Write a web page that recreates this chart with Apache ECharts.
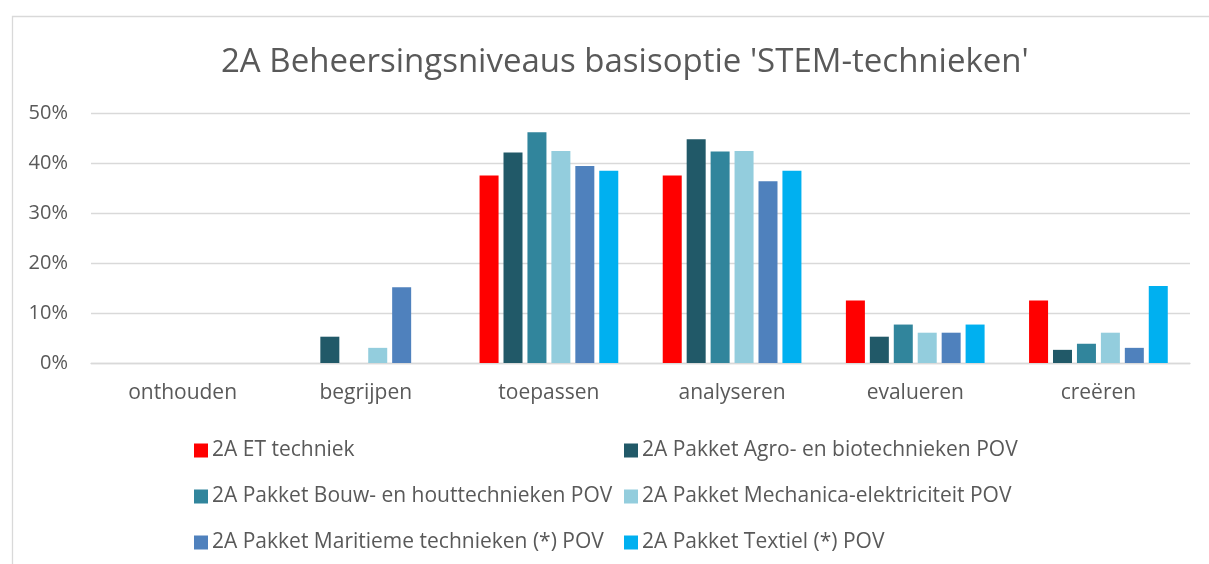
<!DOCTYPE html>
<html>
<head>
<meta charset="utf-8">
<script src="https://cdn.jsdelivr.net/npm/echarts@6/dist/echarts.min.js"></script>
<style>html,body{margin:0;padding:0;background:#fff}#c{width:1209px;height:564px}</style>
</head>
<body>
<div id="c"></div>
<script>
const categories = ['onthouden', 'begrijpen', 'toepassen', 'analyseren', 'evalueren', 'creëren'];
const seriesNames = [
  '2A ET techniek',
  '2A Pakket Agro- en biotechnieken POV',
  '2A Pakket Bouw- en houttechnieken POV',
  '2A Pakket Mechanica-elektriciteit POV',
  '2A Pakket Maritieme technieken (*) POV',
  '2A Pakket Textiel (*) POV'
];
const etTechniek   = [0, 0, 37.5, 37.5, 12.5, 12.5];
const agroBio      = [0, 5.26, 42.11, 44.74, 5.26, 2.63];
const bouwHout     = [0, 0, 46.15, 42.31, 7.69, 3.85];
const mechElek     = [0, 3.03, 42.42, 42.42, 6.06, 6.06];
const maritiem     = [0, 15.15, 39.39, 36.36, 6.06, 3.03];
const textiel      = [0, 0, 38.46, 38.46, 7.69, 15.38];
const seriesValues = [etTechniek, agroBio, bouwHout, mechElek, maritiem, textiel];
const colors = ['#FF0000', '#215968', '#31859C', '#93CDDD', '#4F81BD', '#00B0F0'];
const yTicks = [0, 10, 20, 30, 40, 50];

const txt = '#595959';
const font = "'Open Sans', 'Noto Sans', sans-serif";
const chart = echarts.init(document.getElementById('c'));
const legendText = {color: txt, fontSize: 21, fontFamily: font, lineHeight: 20, padding: [0,0,0,-1]};
chart.setOption({
  animation: false,
  color: colors,
  graphic: [{type: 'rect', left: 10, top: 14, shape: {width: 1230, height: 600},
    style: {fill: 'none', stroke: '#d9d9d9', lineWidth: 1.3}, silent: true}],
  title: {
    text: "2A Beheersingsniveaus basisoptie 'STEM-technieken'",
    left: 216, top: 41,
    textStyle: {color: txt, fontSize: 33, fontWeight: 'normal', fontFamily: font}
  },
  legend: [
    {data: [seriesNames[0], seriesNames[2], seriesNames[4]], orient: 'vertical', left: 189, top: 435,
     itemWidth: 14, itemHeight: 14, itemGap: 25, icon: 'rect', textStyle: legendText},
    {data: [seriesNames[1], seriesNames[3], seriesNames[5]], orient: 'vertical', left: 619, top: 435,
     itemWidth: 14, itemHeight: 14, itemGap: 25, icon: 'rect', textStyle: legendText}
  ],
  grid: {left: 91, right: 19, top: 113, bottom: 201, containLabel: false},
  xAxis: {
    type: 'category', data: categories,
    axisTick: {show: false},
    axisLine: {lineStyle: {color: '#d9d9d9', width: 1.3}},
    axisLabel: {color: txt, fontSize: 21, fontFamily: font, margin: 20}
  },
  yAxis: {
    type: 'value', min: 0, max: 50, interval: 10,
    axisLine: {show: false}, axisTick: {show: false},
    splitLine: {lineStyle: {color: '#d9d9d9', width: 1.3}},
    axisLabel: {color: txt, fontSize: 20, fontFamily: font, margin: 23,
      formatter: v => yTicks.includes(v) ? v + '%' : ''}
  },
  series: seriesNames.map((n, i) => ({
    name: n, type: 'bar', data: seriesValues[i].map(v => v === 0 ? null : v),
    barWidth: 19, barGap: '26%',
    itemStyle: {color: colors[i]}
  }))
});
</script>
</body>
</html>
